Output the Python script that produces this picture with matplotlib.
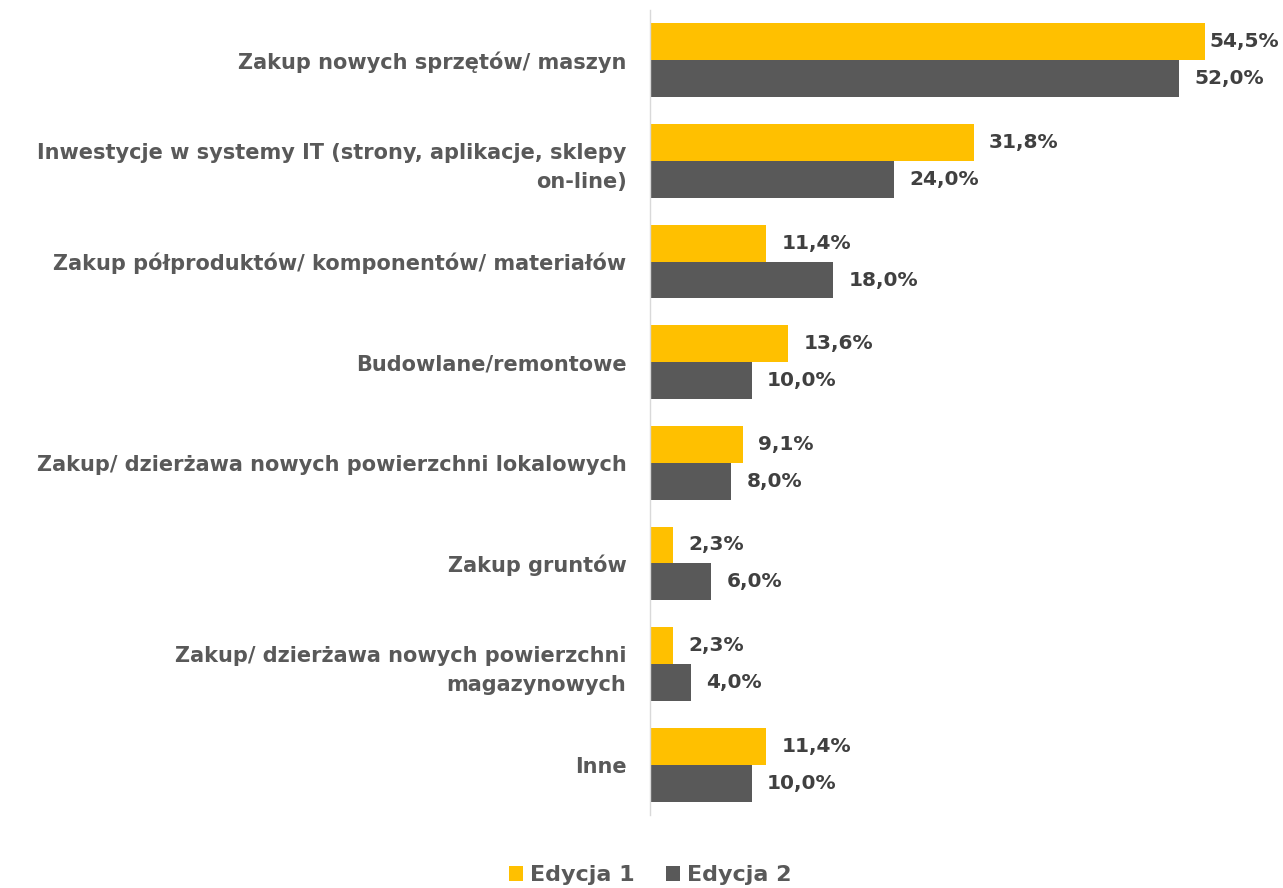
import matplotlib
matplotlib.use("Agg")
import matplotlib.pyplot as plt
import numpy as np

categories = [
    "Zakup nowych sprzętów/ maszyn",
    "Inwestycje w systemy IT (strony, aplikacje, sklepy\non-line)",
    "Zakup półproduktów/ komponentów/ materiałów",
    "Budowlane/remontowe",
    "Zakup/ dzierżawa nowych powierzchni lokalowych",
    "Zakup gruntów",
    "Zakup/ dzierżawa nowych powierzchni\nmagazynowych",
    "Inne",
]
edycja1 = [54.5, 31.8, 11.4, 13.6, 9.1, 2.3, 2.3, 11.4]
edycja2 = [52.0, 24.0, 18.0, 10.0, 8.0, 6.0, 4.0, 10.0]
series_names = ["Edycja 1", "Edycja 2"]

c1 = "#FFC000"
c2 = "#595959"
txt = "#595959"

plt.rcParams['font.family'] = ['DejaVu Sans']
fig = plt.figure(figsize=(12.83, 8.88), dpi=100)
ax = fig.add_axes([650/1283, 1-815/888, 1-650/1283, 805/888])

y = np.arange(len(categories))
h = 0.367
b1 = ax.barh(y - h/2, edycja1, height=h, color=c1, label=series_names[0])
b2 = ax.barh(y + h/2, edycja2, height=h, color=c2, label=series_names[1])

labels = []
for vals, off in ((edycja1, -h/2), (edycja2, h/2)):
    for yi, v in zip(y, vals):
        t = ax.annotate(f"{v:.1f}%".replace(".", ","), xy=(v, yi + off), xytext=(11, 0),
                        textcoords="offset points", va="center", ha="left",
                        fontsize=14.5, fontweight="bold", color="#404040")
        labels.append(t)

ax.set_xlim(0, (1283-650)/10.18)
ax.set_ylim(len(categories) - 0.5, -0.5)
ax.set_yticks(y)
ax.set_yticklabels(categories, fontsize=15, fontweight="bold", color=txt, ha="right",
                   linespacing=1.55)
ax.tick_params(axis="y", length=0, pad=17)
ax.set_xticks([])
for s in ["top", "right", "bottom"]:
    ax.spines[s].set_visible(False)
ax.spines["left"].set_color("#d9d9d9")
ax.spines["left"].set_linewidth(1)

leg = fig.legend(handles=[b1, b2], labels=series_names, loc="center",
                 bbox_to_anchor=(650/1283, 1-875/888), ncol=2, frameon=False,
                 prop={"size": 16, "weight": "bold"}, handlelength=0.65, handleheight=0.65,
                 handletextpad=0.3, columnspacing=1.4)
for t in leg.get_texts():
    t.set_color(txt)

# keep labels inside the figure (like Excel does)
fig.canvas.draw()
r = fig.canvas.get_renderer()
W = fig.bbox.width
for t in labels:
    bb = t.get_window_extent(r)
    if bb.x1 > W - 4:
        shift_pt = (bb.x1 - (W - 4)) * 72 / fig.dpi
        x0, y0 = t.get_position()
        t.set_position((x0 - shift_pt, y0))

fig.savefig("out.png", dpi=100)
